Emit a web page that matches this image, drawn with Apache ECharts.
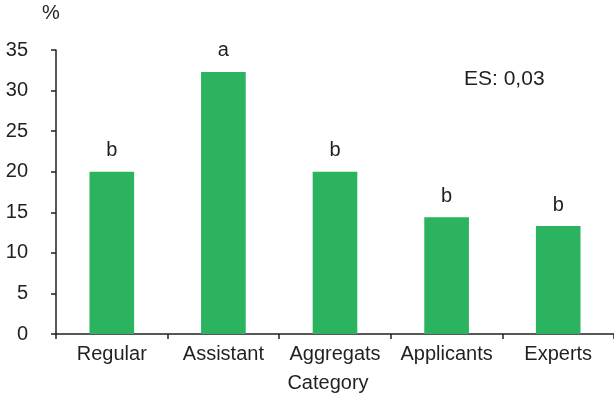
<!DOCTYPE html>
<html>
<head>
<meta charset="utf-8">
<script src="https://cdn.jsdelivr.net/npm/echarts@6/dist/echarts.min.js"></script>
<style>
  html, body { margin: 0; padding: 0; background: #fff; }
  #chart { width: 614px; height: 396px; }
</style>
</head>
<body>
<div id="chart"></div>
<script>
// Share of respondents per category, with significance group letters
const categories = ['Regular', 'Assistant', 'Aggregats', 'Applicants', 'Experts'];
const values = [20.0, 32.3, 20.0, 14.4, 13.3];
const groupLetters = ['b', 'a', 'b', 'b', 'b'];
const yTicks = { min: 0, max: 35, interval: 5 };

const font = 'Liberation Sans, Arial, sans-serif';
const ink = '#231f20';
const fs = 20;

const chart = echarts.init(document.getElementById('chart'), null, { renderer: 'canvas' });
chart.setOption({
  animation: false,
  grid: { left: 56, right: 0, top: 50, bottom: 62, containLabel: false },
  xAxis: {
    type: 'category',
    data: categories,
    axisLine: { lineStyle: { color: ink, width: 1.5 } },
    axisTick: { show: true, inside: false, length: 5, alignWithLabel: false, lineStyle: { color: ink, width: 1.5 } },
    axisLabel: { color: ink, fontSize: fs, fontFamily: font, margin: 10, interval: 0 }
  },
  yAxis: {
    type: 'value',
    min: yTicks.min,
    max: yTicks.max,
    interval: yTicks.interval,
    splitLine: { show: false },
    axisLine: { show: true, lineStyle: { color: ink, width: 1.5 } },
    axisTick: { show: true, inside: false, length: 5, lineStyle: { color: ink, width: 1.5 } },
    axisLabel: { color: ink, fontSize: fs, fontFamily: font, margin: 28, padding: [0, 0, 8, 0] }
  },
  series: [{
    type: 'bar',
    data: values,
    barWidth: '40%',
    itemStyle: { color: '#2bb35f' },
    label: {
      show: true,
      position: 'top',
      distance: 11,
      color: ink,
      fontSize: fs,
      fontFamily: font,
      formatter: p => groupLetters[p.dataIndex]
    }
  }],
  graphic: [
    {
      type: 'text', left: 42, top: 3,
      style: { text: '%', fill: ink, font: fs + 'px ' + font }
    },
    {
      type: 'text', left: 464, top: 69,
      style: { text: 'ES: 0,03', fill: ink, font: '21px ' + font }
    },
    {
      type: 'text', x: 328, y: 383,
      style: { text: 'Category', fill: ink, font: fs + 'px ' + font, align: 'center', verticalAlign: 'middle' }
    }
  ]
});
</script>
</body>
</html>
